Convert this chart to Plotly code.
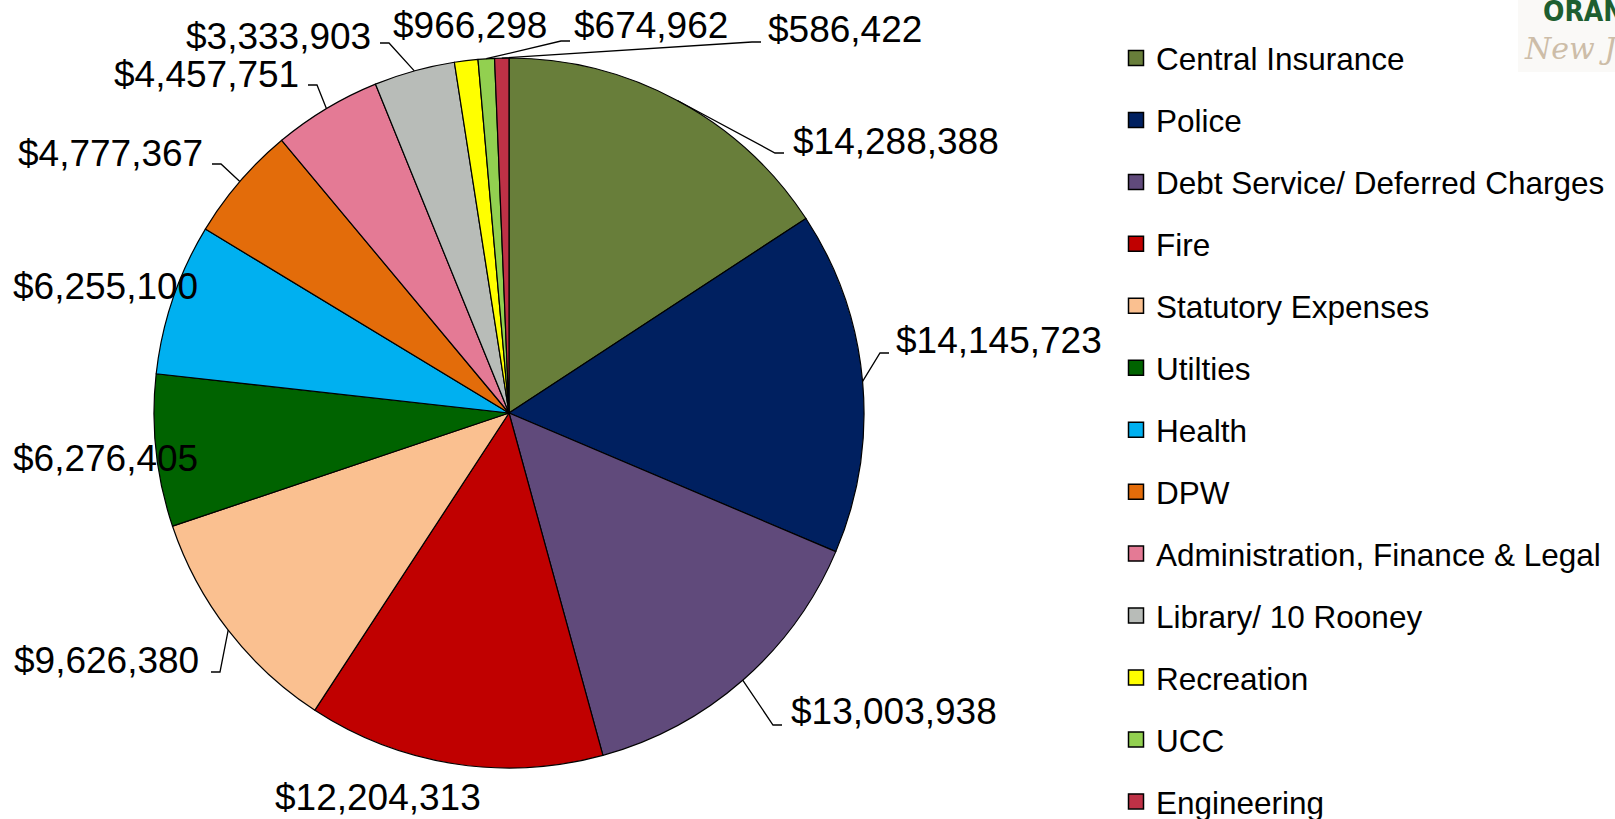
import math
import plotly.graph_objects as go

# ---------------- data ----------------
categories = [
    "Central Insurance", "Police", "Debt Service/ Deferred Charges", "Fire",
    "Statutory Expenses", "Utilties", "Health", "DPW",
    "Administration, Finance & Legal", "Library/ 10 Rooney", "Recreation",
    "UCC", "Engineering",
]
values = [14288388, 14145723, 13003938, 12204313, 9626380, 6276405, 6255100,
          4777367, 4457751, 3333903, 966298, 674962, 586422]
colors = ["#687E3A", "#002060", "#604A7B", "#C00000", "#FAC090", "#006300",
          "#00B0F0", "#E36C0A", "#E47A95", "#B8BCB8", "#FFFF00", "#92D050",
          "#BE3146"]

# ---------------- layout constants (page pixels) ----------------
W, H = 1615, 819
CX, CY, R = 509, 413, 355
LABEL_FONT = 37
FONT = "Arial, Liberation Sans, sans-serif"


def px_x(px):
    return px / W


def px_y(py):
    return (H - py) / H


# label placement: text anchor point, alignment, elbow of leader (None = no leader)
label_layout = [
    dict(xy=(791, 141), anchor="left", elbow=(775, 153)),
    dict(xy=(894, 340), anchor="left", elbow=(880, 353)),
    dict(xy=(789, 711), anchor="left", elbow=(773, 725)),
    dict(xy=(378, 797), anchor="center", elbow=None),
    dict(xy=(201, 660), anchor="right", elbow=(220, 672)),
    dict(xy=(200, 458), anchor="right", elbow=None),
    dict(xy=(200, 286), anchor="right", elbow=None),
    dict(xy=(205, 153), anchor="right", elbow=(221, 164)),
    dict(xy=(301, 74), anchor="right", elbow=(317, 85)),
    dict(xy=(373, 36), anchor="right", elbow=(389, 43)),
    dict(xy=(470, 25), anchor="center", elbow=None),
    dict(xy=(572, 25), anchor="left", elbow=(561, 41)),
    dict(xy=(766, 29), anchor="left", elbow=(752, 42)),
]

fig = go.Figure()

fig.add_trace(go.Pie(
    labels=categories, values=values, sort=False, direction="clockwise",
    rotation=0, textinfo="none", hoverinfo="label+value", showlegend=False,
    marker=dict(colors=colors, line=dict(color="#000000", width=1.2)),
    domain=dict(x=[px_x(CX - R), px_x(CX + R)],
                y=[px_y(CY + R), px_y(CY - R)]),
))

# legend entries (one group each so spacing can be controlled)
for name, col in zip(categories, colors):
    fig.add_trace(go.Scatter(
        x=[None], y=[None], mode="markers", name=name, legendgroup=name,
        marker=dict(symbol="square", size=15, color=col,
                    line=dict(color="#000000", width=1.5)),
        hoverinfo="skip", showlegend=True,
    ))

# mid angles of slices from the data
total = float(sum(values))
cum = 0.0
shapes = []
annotations = []
for v, lay in zip(values, label_layout):
    mid = (cum + v / 2.0) / total * 2 * math.pi
    cum += v
    ex = CX + R * math.sin(mid)
    ey = CY - R * math.cos(mid)
    tx, ty = lay["xy"]
    if lay["elbow"] is not None:
        bx, by = lay["elbow"]
        tail = bx + (9 if lay["anchor"] == "left" else -9)
        shapes.append(dict(
            type="path", xref="x", yref="y",
            path=f"M {ex:.1f},{ey:.1f} L {bx},{by} L {tail},{by}",
            line=dict(color="#000000", width=1.3), layer="above",
        ))
    annotations.append(dict(
        text=f"${v:,}", x=tx, y=ty, xref="x", yref="y",
        xanchor=lay["anchor"], yanchor="middle", showarrow=False,
        font=dict(family=FONT, size=LABEL_FONT, color="#000000"),
    ))

# logo fragment (top right, cut off by page edge)
shapes.append(dict(type="rect", xref="x", yref="y", x0=1518, x1=1615, y0=0, y1=72,
                   fillcolor="#FAF9F7", line=dict(width=0), layer="below"))
annotations.append(dict(
    text="<b>ORANGE</b>", x=px_x(1541), y=px_y(-7), xref="paper", yref="paper",
    xanchor="left", yanchor="top", showarrow=False,
    font=dict(family="DejaVu Sans Condensed, DejaVu Sans", size=28, color="#1E5E30"),
))
annotations.append(dict(
    text="<i>New Jersey</i>", x=px_x(1522), y=px_y(48), xref="paper", yref="paper",
    xanchor="left", yanchor="middle", showarrow=False,
    font=dict(family="DejaVu Serif, serif", size=30, color="#CDBDA8"),
))

fig.update_layout(
    width=W, height=H,
    margin=dict(l=0, r=0, t=0, b=0, autoexpand=False),
    paper_bgcolor="#FFFFFF", plot_bgcolor="rgba(0,0,0,0)",
    xaxis=dict(range=[0, W], visible=False, fixedrange=True),
    yaxis=dict(range=[H, 0], visible=False, fixedrange=True),
    showlegend=True,
    legend=dict(
        x=px_x(1116), y=px_y(31), xanchor="left", yanchor="top",
        font=dict(family=FONT, size=31.5, color="#000000"),
        tracegroupgap=18, itemsizing="trace", bgcolor="rgba(0,0,0,0)",
    ),
    shapes=shapes,
    annotations=annotations,
)

fig.write_html(
    "out.html",
    config={"displayModeBar": False},
    post_script="document.body.style.margin='0px';document.body.style.overflow='hidden';",
)
